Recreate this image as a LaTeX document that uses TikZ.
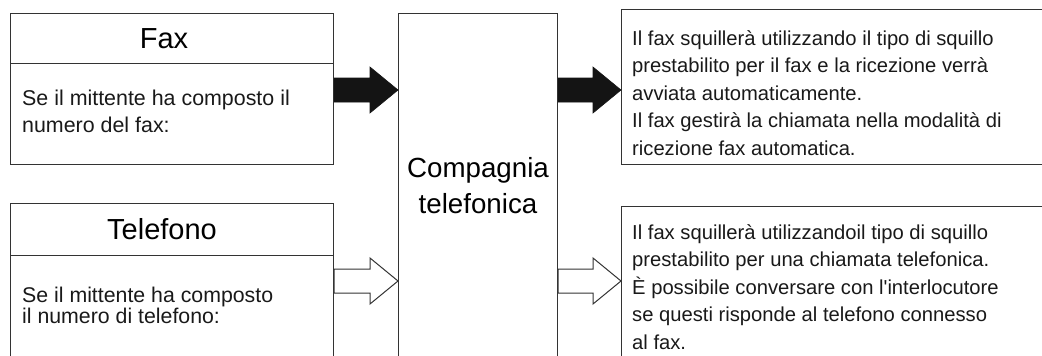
\documentclass[tikz,border=0pt]{standalone}
\usepackage{fontspec}
\setmainfont{Liberation Sans}[Ligatures=TeXOff]
\usetikzlibrary{calc}
\definecolor{linec}{HTML}{333333}
\tikzset{
  box/.style={draw=linec, line width=1.2pt, rectangle, inner sep=0pt, anchor=north west},
  title/.style={inner sep=0pt, anchor=base, text=black, font=\fontsize{29}{35}\selectfont},
  body/.style={inner sep=0pt, anchor=base west, align=left, text=black!90},
  blackarrow/.style={fill=black!92, draw=black!92, line width=0.6pt, line join=miter},
  whitearrow/.style={fill=white, draw=linec, line width=1pt, line join=miter},
}
\newcommand\blockarrow[3]{%
  \draw[#1] let \p1=(#2), \p2=(#3) in
    (\x1,\y1+12pt) -- (\x2-28pt,\y1+12pt) -- (\x2-28pt,\y1+23pt) -- (\x2,\y1)
    -- (\x2-28pt,\y1-23pt) -- (\x2-28pt,\y1-12pt) -- (\x1,\y1-12pt) -- cycle;
}
\begin{document}
\begin{tikzpicture}[x=1pt,y=-1pt]
\useasboundingbox (0,0) rectangle (1042,356);
\clip (0,0) rectangle (1042,356);
% boxes
\node[box, minimum width=323pt, minimum height=50pt] (faxt) at (10,13) {};
\node[box, minimum width=323pt, minimum height=101pt] (faxb) at (10,63) {};
\node[box, minimum width=323pt, minimum height=52pt] (telt) at (10,203) {};
\node[box, minimum width=323pt, minimum height=130pt] (telb) at (10,255) {};
\node[box, minimum width=159pt, minimum height=370pt] (comp) at (398,13) {};
\node[box, minimum width=440pt, minimum height=155pt] (rtop) at (621,9) {};
\node[box, minimum width=440pt, minimum height=180pt] (rbot) at (621,206) {};
% texts (base anchor = baseline of the last line)
\node[title] (faxtitle) at (164,48) {Fax};
\node[title] (teltitle) at (162,239) {Telefono};
\node[body, font=\fontsize{21.4}{27}\selectfont] (faxtext) at (22,132)
  {Se il mittente ha composto il\\numero del fax:};
\node[body, font=\fontsize{21.3}{21}\selectfont] (teltext) at (22,323)
  {Se il mittente ha composto\\il numero di telefono:};
\node[inner sep=0pt, anchor=base, align=center, font=\fontsize{27.7}{36}\selectfont] (comptext) at (478,213)
  {Compagnia\\telefonica};
\node[body, font=\fontsize{20.2}{27.5}\selectfont] (rtoptext) at (632,155)
  {Il fax squillerà utilizzando il tipo di squillo\\prestabilito per il fax e la ricezione verrà\\avviata automaticamente.\\Il fax gestirà la chiamata nella modalità di\\ricezione fax automatica.};
\node[body, font=\fontsize{20.2}{27.5}\selectfont] (rbottext) at (632,349)
  {Il fax squillerà utilizzandoil tipo di squillo\\prestabilito per una chiamata telefonica.\\È possibile conversare con l'interlocutore\\se questi risponde al telefono connesso\\al fax.};
% arrows
\coordinate (ya) at (0,90);
\coordinate (yb) at (0,281);
\blockarrow{blackarrow}{faxb.east |- ya}{comp.west |- ya}
\blockarrow{blackarrow}{comp.east |- ya}{rtop.west |- ya}
\blockarrow{whitearrow}{telb.east |- yb}{comp.west |- yb}
\blockarrow{whitearrow}{comp.east |- yb}{rbot.west |- yb}
\end{tikzpicture}
\end{document}
